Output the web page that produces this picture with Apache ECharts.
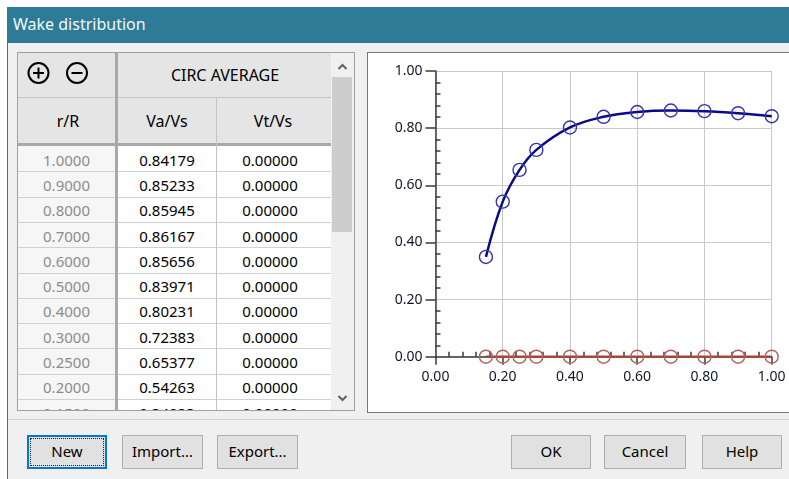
<!DOCTYPE html>
<html><head><meta charset="utf-8">
<script src="https://cdn.jsdelivr.net/npm/echarts@6/dist/echarts.min.js"></script>
<style>
html,body{margin:0;padding:0;width:789px;height:479px;overflow:hidden;background:#fff;font-family:"Noto Sans",sans-serif;color:#000;}
.abs{position:absolute;}
#win{left:7px;top:7px;width:782px;height:472px;background:#f0f0f0;}
#lborder{left:7px;top:43px;width:1px;height:436px;background:#2c7a96;}
#title{left:7px;top:7px;width:782px;height:36px;background:#2e7b97;color:#f4f8fa;font-size:16px;line-height:35px;text-indent:6px;white-space:nowrap;}
#tbl{left:17px;top:52px;width:336px;height:357px;border:1px solid #a0a0a0;background:#fff;overflow:hidden;}
.hdr{background:#e5e5e5;}
.cell{position:absolute;font-size:15px;white-space:nowrap;transform:translate(-50%,-50%);}
.cell.big{font-size:16px;}
.line{position:absolute;}
#panel{left:367px;top:52px;width:440px;height:359px;border:1px solid #787878;background:#fff;}
#sep{left:8px;top:419px;width:781px;height:1px;background:#d2d2d2;}
.btn{position:absolute;box-sizing:border-box;height:34px;top:435px;border:1px solid #adadad;background:#e1e1e1;font-size:15px;text-align:center;line-height:31px;}
#chart{position:absolute;left:0;top:0;width:789px;height:479px;z-index:10;}
</style></head>
<body>
<div id="win" class="abs"></div>
<div id="lborder" class="abs"></div>
<div id="title" class="abs">Wake distribution</div>
<div id="tbl" class="abs"></div>
<div id="panel" class="abs"></div>
<div id="sep" class="abs"></div>
<div id="btns"></div>
<div id="chart"></div>
<script>
// ---- data ----
const rR   = [1.0, 0.9, 0.8, 0.7, 0.6, 0.5, 0.4, 0.3, 0.25, 0.2, 0.15];
const vaVs = [0.84179, 0.85233, 0.85945, 0.86167, 0.85656, 0.83971, 0.80231, 0.72383, 0.65377, 0.54263, 0.34923];
const vtVs = [0, 0, 0, 0, 0, 0, 0, 0, 0, 0, 0];
const groupHeader = 'CIRC AVERAGE';
const colHeaders = ['r/R', 'Va/Vs', 'Vt/Vs'];
const windowTitle = 'Wake distribution';
const leftButtons = ['New', 'Import...', 'Export...'];
const rightButtons = ['OK', 'Cancel', 'Help'];

// ---- table (HTML) ----
const tbl = document.getElementById('tbl');
let h = '';
function rect(x, y, w, hh, c) { return `<div class="line" style="left:${x}px;top:${y}px;width:${w}px;height:${hh}px;background:${c}"></div>`; }
function txt(x, y, s, col, cls) { return `<div class="cell ${cls||''}" style="left:${x}px;top:${y}px;color:${col||'#000'}">${s}</div>`; }
h += `<div class="line hdr" style="left:0;top:0;width:313px;height:90px"></div>`;
h += rect(0, 93, 97, 270, '#f6f6f6');
const rowTop = 94, rowH = 25.3;
for (let i = 0; i < rR.length; i++) {
  const y = rowTop + i * rowH;
  h += rect(0, y + rowH - 1, 313, 1, '#d0d0d0');
  const cy = y + rowH / 2;
  h += txt(48.5, cy, rR[i].toFixed(4), '#8c8c8c');
  h += txt(149, cy, vaVs[i].toFixed(5));
  h += txt(252, cy, vtVs[i].toFixed(5));
}
h += rect(0, 44, 313, 1, '#c4c4c4');
h += rect(0, 90, 313, 3, '#a9a9a9');
h += rect(97, 0, 3, 360, '#a9a9a9');
h += rect(198, 45, 1, 315, '#c4c4c4');
h += txt(207, 22, groupHeader, '#000', 'big');
h += txt(50, 68, colHeaders[0], '#000', 'big');
h += txt(149, 68, colHeaders[1], '#000', 'big');
h += txt(255, 68, colHeaders[2], '#000', 'big');
h += `<svg class="line" style="left:0;top:0" width="97" height="44">
 <circle cx="20.5" cy="20" r="10" fill="none" stroke="#000" stroke-width="2"/>
 <line x1="15" y1="20" x2="26" y2="20" stroke="#000" stroke-width="2"/>
 <line x1="20.5" y1="14.5" x2="20.5" y2="25.5" stroke="#000" stroke-width="2"/>
 <circle cx="59" cy="20" r="10" fill="none" stroke="#000" stroke-width="2"/>
 <line x1="53.5" y1="20" x2="64.5" y2="20" stroke="#000" stroke-width="2"/>
</svg>`;
h += rect(313, 0, 23, 357, '#f0f0f0');
h += rect(314, 24, 20, 155, '#cdcdcd');
h += `<svg class="line" style="left:313px;top:0" width="23" height="357">
 <polyline points="7.5,16 11.5,12 15.5,16" fill="none" stroke="#606060" stroke-width="2"/>
 <polyline points="7.5,343 11.5,347 15.5,343" fill="none" stroke="#606060" stroke-width="2"/>
</svg>`;
tbl.innerHTML = h;
document.getElementById('title').textContent = windowTitle;

// ---- buttons ----
const btnPos = [[27, 80], [122, 81], [217, 81], [511, 80], [604, 82], [702, 80]];
const allBtns = leftButtons.concat(rightButtons);
let bh = '';
allBtns.forEach((b, i) => {
  const [x, w] = btnPos[i];
  if (i === 0) {
    bh += `<div class="btn" style="left:${x}px;width:${w}px;border:1px solid #0078d7;box-shadow:inset 0 0 0 1px #0078d7">${b}<div style="position:absolute;left:2px;top:2px;right:2px;bottom:2px;border:1px dotted #222"></div></div>`;
  } else {
    bh += `<div class="btn" style="left:${x}px;width:${w}px">${b}</div>`;
  }
});
document.getElementById('btns').innerHTML = bh;

// ---- chart ----
const blueData = rR.map((r, i) => [r, vaVs[i]]).sort((a, b) => a[0] - b[0]);
const redData = rR.map((r, i) => [r, vtVs[i]]).sort((a, b) => a[0] - b[0]);
const axCol = '#3a3a3a';
function axis(tickLen, margin) {
  return {
    type: 'value', min: 0, max: 1, interval: 0.2,
    axisLine: { show: true, onZero: false, lineStyle: { color: axCol, width: 1.5 } },
    axisTick: { show: true, length: tickLen, lineStyle: { color: axCol, width: 1.5 } },
    minorTick: { show: true, splitNumber: 5, length: -5, lineStyle: { color: axCol, width: 1.5 } },
    splitLine: { show: true, lineStyle: { color: '#c8c8c8', width: 1 } },
    axisLabel: { formatter: v => v.toFixed(2), fontSize: 14, color: '#14142a', margin: margin, fontFamily: 'Noto Sans' }
  };
}
const chart = echarts.init(document.getElementById('chart'), null, { renderer: 'canvas' });
chart.setOption({
  animation: false,
  backgroundColor: 'transparent',
  grid: { left: 435.5, right: 17.3, top: 71, bottom: 122.3, outerBoundsMode: 'none' },
  xAxis: axis(8, 13),
  yAxis: axis(10, 13),
  series: [
    {
      type: 'line', data: blueData, smooth: 0.4,
      lineStyle: { color: '#0a0a88', width: 2.5 },
      symbol: 'circle', symbolSize: 13,
      itemStyle: { color: 'rgba(0,0,0,0)', borderColor: '#3434b0', borderWidth: 1.4 },
      z: 3
    },
    {
      type: 'line', data: redData, smooth: false,
      lineStyle: { color: '#a0483e', width: 2.5 },
      symbol: 'circle', symbolSize: 13,
      itemStyle: { color: 'rgba(0,0,0,0)', borderColor: '#b0645a', borderWidth: 1.4 },
      z: 3
    }
  ]
});
</script>
</body></html>
